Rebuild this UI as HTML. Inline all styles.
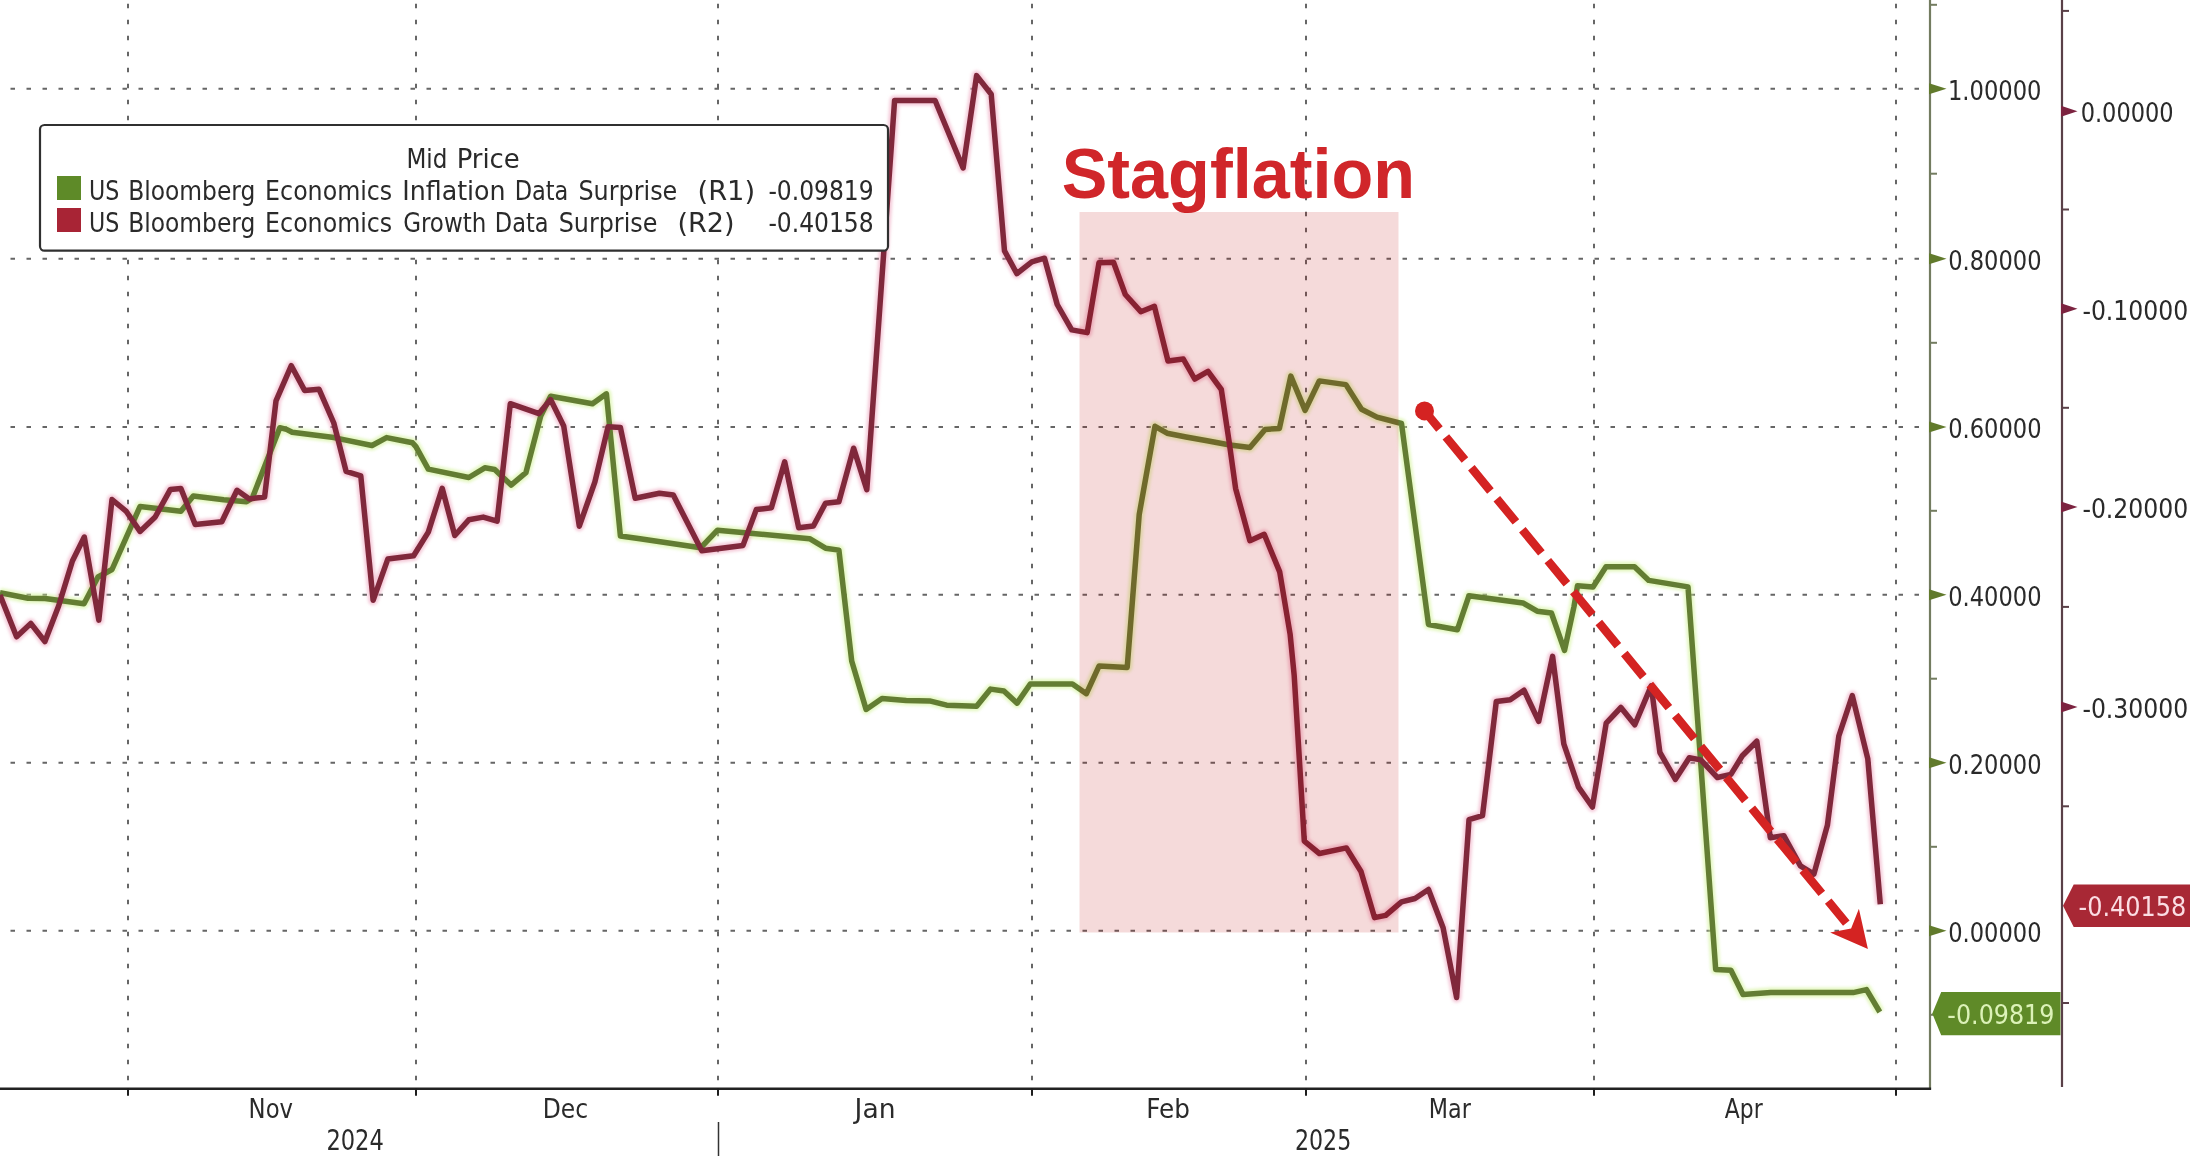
<!DOCTYPE html><html><head><meta charset="utf-8"><title>Stagflation</title><style>html,body{margin:0;padding:0;background:#fff;overflow:hidden}svg{display:block;will-change:transform}</style></head><body>
<svg width="2190" height="1156" viewBox="0 0 2190 1156">
<rect width="2190" height="1156" fill="#fff"/>
<line x1="128" y1="0" x2="128" y2="1086" stroke="#666" stroke-width="2" stroke-dasharray="4.5 11.5" stroke-dashoffset="-3.75"/><line x1="416" y1="0" x2="416" y2="1086" stroke="#666" stroke-width="2" stroke-dasharray="4.5 11.5" stroke-dashoffset="-3.75"/><line x1="718" y1="0" x2="718" y2="1086" stroke="#666" stroke-width="2" stroke-dasharray="4.5 11.5" stroke-dashoffset="-3.75"/><line x1="1032" y1="0" x2="1032" y2="1086" stroke="#666" stroke-width="2" stroke-dasharray="4.5 11.5" stroke-dashoffset="-3.75"/><line x1="1306" y1="0" x2="1306" y2="1086" stroke="#666" stroke-width="2" stroke-dasharray="4.5 11.5" stroke-dashoffset="-3.75"/><line x1="1594" y1="0" x2="1594" y2="1086" stroke="#666" stroke-width="2" stroke-dasharray="4.5 11.5" stroke-dashoffset="-3.75"/><line x1="1896" y1="0" x2="1896" y2="1086" stroke="#666" stroke-width="2" stroke-dasharray="4.5 11.5" stroke-dashoffset="-3.75"/><line x1="0" y1="88.8" x2="1928" y2="88.8" stroke="#666" stroke-width="2" stroke-dasharray="4.5 11.5" stroke-dashoffset="-10.5"/><line x1="0" y1="258.7" x2="1928" y2="258.7" stroke="#666" stroke-width="2" stroke-dasharray="4.5 11.5" stroke-dashoffset="-10.5"/><line x1="0" y1="426.9" x2="1928" y2="426.9" stroke="#666" stroke-width="2" stroke-dasharray="4.5 11.5" stroke-dashoffset="-10.5"/><line x1="0" y1="594.7" x2="1928" y2="594.7" stroke="#666" stroke-width="2" stroke-dasharray="4.5 11.5" stroke-dashoffset="-10.5"/><line x1="0" y1="762.7" x2="1928" y2="762.7" stroke="#666" stroke-width="2" stroke-dasharray="4.5 11.5" stroke-dashoffset="-10.5"/><line x1="0" y1="930.8" x2="1928" y2="930.8" stroke="#666" stroke-width="2" stroke-dasharray="4.5 11.5" stroke-dashoffset="-10.5"/>
<text x="1061.73" y="198" font-family="Liberation Sans, DejaVu Sans, sans-serif" font-size="70" font-weight="bold" fill="#d0262a" textLength="353.27" lengthAdjust="spacingAndGlyphs">Stagflation</text>
<defs><filter id="hb" x="-5%" y="-5%" width="110%" height="110%"><feGaussianBlur stdDeviation="1.6"/></filter></defs>
<g filter="url(#hb)"><polyline points="0,592.8 28,598.3 45.1,598.6 84,603.7 98,577 112,569.5 140,506.5 180.9,511.2 193.3,496 223.7,499.8 246.5,501.7 252.3,498 279.8,427.7 286.5,429.4 292.2,432.3 333.8,437.6 372,445.5 386.6,437.6 412.5,442.8 415.9,446.6 428.3,469.1 468.8,477.5 484.8,467.8 494.7,469.5 511.1,485.1 525.9,472.7 540.7,416 550.6,396.3 592.5,403.7 606.4,393.8 620.4,536 640,538.7 700.6,547.8 717.5,530.2 809.6,538.7 825.5,548.2 838.9,550.1 851.7,661 866.1,709.4 882,698.5 906.2,700.5 929.6,700.9 946.7,705.2 976.6,706.2 990.6,689.1 1003.9,691 1017.1,703.1 1030.3,684 1072.4,684 1086.4,693.7 1099,666.1 1127.2,667.4 1139.2,514.6 1155,426.3 1167.1,433.2 1186.1,437 1207.1,440.8 1229.9,445 1249.9,447.5 1265.1,429.4 1279.4,428.5 1290.8,376.1 1305.1,410.4 1319.3,380.9 1345.9,384.6 1361.5,409.3 1377,417.1 1401.5,423.5 1428.5,624.5 1457.4,629.7 1468.9,595.8 1522.9,602.9 1537.2,611.2 1551.4,613 1564.5,650.4 1574,606.5 1577.5,585.7 1593,586.9 1606,566.7 1634.5,566.7 1648.8,580.4 1688,586.9 1715.7,969.6 1730.9,970.2 1743,994.4 1770.8,992.6 1853.1,992.6 1866.5,989.6 1879.8,1012" fill="none" stroke="rgb(205,240,140)" stroke-opacity="0.55" stroke-width="10" stroke-linejoin="round"/>
<polyline points="0,595 16.6,636.8 30.8,623.5 44.9,641.5 58.6,606 72.4,561 84.3,537 98.8,620.1 112,499.5 126,511 140,531.4 155.2,517 170.4,489.4 180.9,488.4 195.2,524.6 221.8,521.7 237,490.3 249.4,498.9 264.6,497 276,400.9 291.3,365.7 304.6,390.4 319.1,389.3 333.8,423 346.1,471.4 360.8,475.9 373.1,600.3 387.8,559.1 413.6,555.8 428.3,532.1 442.2,488.3 454.8,535.5 468.8,519.8 483.2,517.1 497.1,521.2 510.3,403.7 539,413.6 550.6,399.6 563.7,425.9 579.3,526.2 594.9,481.8 608.1,426.7 620.4,427.5 635.2,498.2 659.4,493.3 673.3,495.1 701.8,550.8 743,545.4 756.3,509.6 771.4,507.8 784.7,461.8 798.7,527.8 813.4,526 825.5,503.2 838.9,501.8 853.6,448.2 866.8,489.7 894.6,100.5 935.1,100.5 963.1,168 976.6,75.6 991.2,94.3 1004.5,250.9 1016.9,273.6 1031.8,261.8 1044.5,258.2 1057.2,304.5 1071.7,329.9 1087.2,332.6 1099,262.7 1113.5,262.3 1125.3,294.5 1140.8,311.7 1154.4,306.3 1168,361 1183.3,359 1194.7,379 1208,371.4 1221.3,389.5 1229,440.8 1235.6,488.4 1249.9,540.7 1264.2,534.3 1279.7,571.9 1290.1,634.1 1294.2,675.6 1299.4,760 1304.3,841.1 1319.4,853.5 1346.4,847.9 1361,871.5 1374.5,917.6 1385.7,915.4 1401.5,901.9 1415,898.5 1428.5,889.5 1443.1,927.7 1456.6,997.5 1469,819.7 1482.5,815.6 1496.3,701.4 1510.2,699.7 1524,690.2 1538.7,721.3 1552.6,656.4 1563.8,743.8 1578.5,787.1 1592.4,807 1606.2,723.1 1620.9,707.5 1634.8,724.8 1651.2,685.9 1659.9,752.5 1675.4,779.3 1689.3,757.8 1700.8,759.9 1717.4,777.5 1730.9,774.4 1742.3,755.8 1756.8,741.2 1770.3,837.7 1783.8,835.7 1800.4,865.8 1813.9,874.1 1827.4,825.3 1838.8,736 1852.3,695.6 1867.8,758.9 1880.3,904.2" fill="none" stroke="rgb(235,150,180)" stroke-opacity="0.5" stroke-width="10" stroke-linejoin="round"/></g>
<polyline points="0,592.8 28,598.3 45.1,598.6 84,603.7 98,577 112,569.5 140,506.5 180.9,511.2 193.3,496 223.7,499.8 246.5,501.7 252.3,498 279.8,427.7 286.5,429.4 292.2,432.3 333.8,437.6 372,445.5 386.6,437.6 412.5,442.8 415.9,446.6 428.3,469.1 468.8,477.5 484.8,467.8 494.7,469.5 511.1,485.1 525.9,472.7 540.7,416 550.6,396.3 592.5,403.7 606.4,393.8 620.4,536 640,538.7 700.6,547.8 717.5,530.2 809.6,538.7 825.5,548.2 838.9,550.1 851.7,661 866.1,709.4 882,698.5 906.2,700.5 929.6,700.9 946.7,705.2 976.6,706.2 990.6,689.1 1003.9,691 1017.1,703.1 1030.3,684 1072.4,684 1086.4,693.7 1099,666.1 1127.2,667.4 1139.2,514.6 1155,426.3 1167.1,433.2 1186.1,437 1207.1,440.8 1229.9,445 1249.9,447.5 1265.1,429.4 1279.4,428.5 1290.8,376.1 1305.1,410.4 1319.3,380.9 1345.9,384.6 1361.5,409.3 1377,417.1 1401.5,423.5 1428.5,624.5 1457.4,629.7 1468.9,595.8 1522.9,602.9 1537.2,611.2 1551.4,613 1564.5,650.4 1574,606.5 1577.5,585.7 1593,586.9 1606,566.7 1634.5,566.7 1648.8,580.4 1688,586.9 1715.7,969.6 1730.9,970.2 1743,994.4 1770.8,992.6 1853.1,992.6 1866.5,989.6 1879.8,1012" fill="none" stroke="#637d33" stroke-width="5.5" stroke-linejoin="round"/>
<polyline points="0,595 16.6,636.8 30.8,623.5 44.9,641.5 58.6,606 72.4,561 84.3,537 98.8,620.1 112,499.5 126,511 140,531.4 155.2,517 170.4,489.4 180.9,488.4 195.2,524.6 221.8,521.7 237,490.3 249.4,498.9 264.6,497 276,400.9 291.3,365.7 304.6,390.4 319.1,389.3 333.8,423 346.1,471.4 360.8,475.9 373.1,600.3 387.8,559.1 413.6,555.8 428.3,532.1 442.2,488.3 454.8,535.5 468.8,519.8 483.2,517.1 497.1,521.2 510.3,403.7 539,413.6 550.6,399.6 563.7,425.9 579.3,526.2 594.9,481.8 608.1,426.7 620.4,427.5 635.2,498.2 659.4,493.3 673.3,495.1 701.8,550.8 743,545.4 756.3,509.6 771.4,507.8 784.7,461.8 798.7,527.8 813.4,526 825.5,503.2 838.9,501.8 853.6,448.2 866.8,489.7 894.6,100.5 935.1,100.5 963.1,168 976.6,75.6 991.2,94.3 1004.5,250.9 1016.9,273.6 1031.8,261.8 1044.5,258.2 1057.2,304.5 1071.7,329.9 1087.2,332.6 1099,262.7 1113.5,262.3 1125.3,294.5 1140.8,311.7 1154.4,306.3 1168,361 1183.3,359 1194.7,379 1208,371.4 1221.3,389.5 1229,440.8 1235.6,488.4 1249.9,540.7 1264.2,534.3 1279.7,571.9 1290.1,634.1 1294.2,675.6 1299.4,760 1304.3,841.1 1319.4,853.5 1346.4,847.9 1361,871.5 1374.5,917.6 1385.7,915.4 1401.5,901.9 1415,898.5 1428.5,889.5 1443.1,927.7 1456.6,997.5 1469,819.7 1482.5,815.6 1496.3,701.4 1510.2,699.7 1524,690.2 1538.7,721.3 1552.6,656.4 1563.8,743.8 1578.5,787.1 1592.4,807 1606.2,723.1 1620.9,707.5 1634.8,724.8 1651.2,685.9 1659.9,752.5 1675.4,779.3 1689.3,757.8 1700.8,759.9 1717.4,777.5 1730.9,774.4 1742.3,755.8 1756.8,741.2 1770.3,837.7 1783.8,835.7 1800.4,865.8 1813.9,874.1 1827.4,825.3 1838.8,736 1852.3,695.6 1867.8,758.9 1880.3,904.2" fill="none" stroke="#80283b" stroke-width="5.5" stroke-linejoin="round"/>
<rect x="1079.5" y="212" width="319" height="720.5" fill="rgb(185,0,0)" fill-opacity="0.145"/>
<line x1="1424.5" y1="410.9" x2="1846.3" y2="923.1" stroke="#d42322" stroke-width="8.5" stroke-dasharray="30 10.1" stroke-dashoffset="6.5"/>
<circle cx="1424.5" cy="410.9" r="9.5" fill="#d42322"/>
<polygon points="1867.9,949 1858.9,908.7 1851.1,928.6 1830.1,932.5" fill="#d42322"/>
<rect x="40" y="125" width="848" height="125.7" rx="4.5" ry="4.5" fill="#fff" stroke="#303030" stroke-width="2.2"/>
<rect x="57" y="176" width="24" height="24" fill="#5e8a28"/>
<rect x="57" y="208" width="24" height="24" fill="#a82435"/>
<text x="406.40" y="167.6" font-family="DejaVu Sans Condensed, DejaVu Sans, sans-serif" font-size="26" font-weight="normal" fill="#2a2a2a" textLength="40.93" lengthAdjust="spacingAndGlyphs">Mid</text>
<text x="456.65" y="167.6" font-family="DejaVu Sans Condensed, DejaVu Sans, sans-serif" font-size="26" font-weight="normal" fill="#2a2a2a" textLength="63.15" lengthAdjust="spacingAndGlyphs">Price</text>
<text x="89.07" y="200.3" font-family="DejaVu Sans Condensed, DejaVu Sans, sans-serif" font-size="26" font-weight="normal" fill="#2a2a2a" textLength="30.31" lengthAdjust="spacingAndGlyphs">US</text>
<text x="128.17" y="200.3" font-family="DejaVu Sans Condensed, DejaVu Sans, sans-serif" font-size="26" font-weight="normal" fill="#2a2a2a" textLength="127.18" lengthAdjust="spacingAndGlyphs">Bloomberg</text>
<text x="265.14" y="200.3" font-family="DejaVu Sans Condensed, DejaVu Sans, sans-serif" font-size="26" font-weight="normal" fill="#2a2a2a" textLength="127.08" lengthAdjust="spacingAndGlyphs">Economics</text>
<text x="402.20" y="200.3" font-family="DejaVu Sans Condensed, DejaVu Sans, sans-serif" font-size="26" font-weight="normal" fill="#2a2a2a" textLength="103.48" lengthAdjust="spacingAndGlyphs">Inflation</text>
<text x="514.75" y="200.3" font-family="DejaVu Sans Condensed, DejaVu Sans, sans-serif" font-size="26" font-weight="normal" fill="#2a2a2a" textLength="53.62" lengthAdjust="spacingAndGlyphs">Data</text>
<text x="578.46" y="200.3" font-family="DejaVu Sans Condensed, DejaVu Sans, sans-serif" font-size="26" font-weight="normal" fill="#2a2a2a" textLength="98.85" lengthAdjust="spacingAndGlyphs">Surprise</text>
<text x="697.50" y="200.3" font-family="DejaVu Sans Condensed, DejaVu Sans, sans-serif" font-size="26" font-weight="normal" fill="#2a2a2a" textLength="57.61" lengthAdjust="spacingAndGlyphs">(R1)</text>
<text x="768.39" y="200.3" font-family="DejaVu Sans Condensed, DejaVu Sans, sans-serif" font-size="26" font-weight="normal" fill="#2a2a2a" textLength="105.29" lengthAdjust="spacingAndGlyphs">-0.09819</text>
<text x="89.07" y="232.4" font-family="DejaVu Sans Condensed, DejaVu Sans, sans-serif" font-size="26" font-weight="normal" fill="#2a2a2a" textLength="30.31" lengthAdjust="spacingAndGlyphs">US</text>
<text x="128.17" y="232.4" font-family="DejaVu Sans Condensed, DejaVu Sans, sans-serif" font-size="26" font-weight="normal" fill="#2a2a2a" textLength="127.18" lengthAdjust="spacingAndGlyphs">Bloomberg</text>
<text x="265.14" y="232.4" font-family="DejaVu Sans Condensed, DejaVu Sans, sans-serif" font-size="26" font-weight="normal" fill="#2a2a2a" textLength="127.08" lengthAdjust="spacingAndGlyphs">Economics</text>
<text x="403.20" y="232.4" font-family="DejaVu Sans Condensed, DejaVu Sans, sans-serif" font-size="26" font-weight="normal" fill="#2a2a2a" textLength="83.09" lengthAdjust="spacingAndGlyphs">Growth</text>
<text x="494.85" y="232.4" font-family="DejaVu Sans Condensed, DejaVu Sans, sans-serif" font-size="26" font-weight="normal" fill="#2a2a2a" textLength="53.62" lengthAdjust="spacingAndGlyphs">Data</text>
<text x="558.66" y="232.4" font-family="DejaVu Sans Condensed, DejaVu Sans, sans-serif" font-size="26" font-weight="normal" fill="#2a2a2a" textLength="98.75" lengthAdjust="spacingAndGlyphs">Surprise</text>
<text x="677.52" y="232.4" font-family="DejaVu Sans Condensed, DejaVu Sans, sans-serif" font-size="26" font-weight="normal" fill="#2a2a2a" textLength="57.08" lengthAdjust="spacingAndGlyphs">(R2)</text>
<text x="768.39" y="232.4" font-family="DejaVu Sans Condensed, DejaVu Sans, sans-serif" font-size="26" font-weight="normal" fill="#2a2a2a" textLength="105.29" lengthAdjust="spacingAndGlyphs">-0.40158</text>
<line x1="1930" y1="0" x2="1930" y2="1089.5" stroke="#737c60" stroke-width="2.2"/>
<line x1="0" y1="1088.7" x2="1931.1" y2="1088.7" stroke="#222" stroke-width="2.4"/>
<line x1="128" y1="1088" x2="128" y2="1095.7" stroke="#1e1e1e" stroke-width="2"/>
<line x1="416" y1="1088" x2="416" y2="1095.7" stroke="#1e1e1e" stroke-width="2"/>
<line x1="718" y1="1088" x2="718" y2="1095.7" stroke="#1e1e1e" stroke-width="2"/>
<line x1="1032" y1="1088" x2="1032" y2="1095.7" stroke="#1e1e1e" stroke-width="2"/>
<line x1="1306" y1="1088" x2="1306" y2="1095.7" stroke="#1e1e1e" stroke-width="2"/>
<line x1="1594" y1="1088" x2="1594" y2="1095.7" stroke="#1e1e1e" stroke-width="2"/>
<line x1="1896" y1="1088" x2="1896" y2="1095.7" stroke="#1e1e1e" stroke-width="2"/>
<line x1="2062" y1="0" x2="2062" y2="1087" stroke="#5a4048" stroke-width="2.2"/>
<line x1="1930" y1="4.8" x2="1937" y2="4.8" stroke="#737c60" stroke-width="2"/>
<line x1="1930" y1="173.7" x2="1937" y2="173.7" stroke="#737c60" stroke-width="2"/>
<line x1="1930" y1="342.8" x2="1937" y2="342.8" stroke="#737c60" stroke-width="2"/>
<line x1="1930" y1="510.8" x2="1937" y2="510.8" stroke="#737c60" stroke-width="2"/>
<line x1="1930" y1="678.7" x2="1937" y2="678.7" stroke="#737c60" stroke-width="2"/>
<line x1="1930" y1="846.8" x2="1937" y2="846.8" stroke="#737c60" stroke-width="2"/>
<line x1="1930" y1="1014.8" x2="1937" y2="1014.8" stroke="#737c60" stroke-width="2"/>
<polygon points="1929,83.3 1946.5,88.8 1929,94.3" fill="#617a2c"/>
<polygon points="1929,253.2 1946.5,258.7 1929,264.2" fill="#617a2c"/>
<polygon points="1929,421.4 1946.5,426.9 1929,432.4" fill="#617a2c"/>
<polygon points="1929,589.2 1946.5,594.7 1929,600.2" fill="#617a2c"/>
<polygon points="1929,757.2 1946.5,762.7 1929,768.2" fill="#617a2c"/>
<polygon points="1929,925.3 1946.5,930.8 1929,936.3" fill="#617a2c"/>
<line x1="2062" y1="10.9" x2="2069" y2="10.9" stroke="#5a4048" stroke-width="2"/>
<line x1="2062" y1="209.5" x2="2069" y2="209.5" stroke="#5a4048" stroke-width="2"/>
<line x1="2062" y1="407.8" x2="2069" y2="407.8" stroke="#5a4048" stroke-width="2"/>
<line x1="2062" y1="606.9" x2="2069" y2="606.9" stroke="#5a4048" stroke-width="2"/>
<line x1="2062" y1="806.3" x2="2069" y2="806.3" stroke="#5a4048" stroke-width="2"/>
<line x1="2062" y1="1003" x2="2069" y2="1003" stroke="#5a4048" stroke-width="2"/>
<polygon points="2061,105.7 2077.5,111.2 2061,116.7" fill="#7c2340"/>
<polygon points="2061,303.3 2077.5,308.8 2061,314.3" fill="#7c2340"/>
<polygon points="2061,501.4 2077.5,506.9 2061,512.4" fill="#7c2340"/>
<polygon points="2061,701.4 2077.5,706.9 2061,712.4" fill="#7c2340"/>
<text x="1947.94" y="99.6" font-family="DejaVu Sans Condensed, DejaVu Sans, sans-serif" font-size="27" font-weight="normal" fill="#2a2a2a" textLength="93.58" lengthAdjust="spacingAndGlyphs">1.00000</text>
<text x="1948.22" y="269.5" font-family="DejaVu Sans Condensed, DejaVu Sans, sans-serif" font-size="27" font-weight="normal" fill="#2a2a2a" textLength="93.30" lengthAdjust="spacingAndGlyphs">0.80000</text>
<text x="1948.22" y="437.7" font-family="DejaVu Sans Condensed, DejaVu Sans, sans-serif" font-size="27" font-weight="normal" fill="#2a2a2a" textLength="93.30" lengthAdjust="spacingAndGlyphs">0.60000</text>
<text x="1948.22" y="605.5" font-family="DejaVu Sans Condensed, DejaVu Sans, sans-serif" font-size="27" font-weight="normal" fill="#2a2a2a" textLength="93.30" lengthAdjust="spacingAndGlyphs">0.40000</text>
<text x="1948.22" y="773.5" font-family="DejaVu Sans Condensed, DejaVu Sans, sans-serif" font-size="27" font-weight="normal" fill="#2a2a2a" textLength="93.30" lengthAdjust="spacingAndGlyphs">0.20000</text>
<text x="1948.22" y="941.6" font-family="DejaVu Sans Condensed, DejaVu Sans, sans-serif" font-size="27" font-weight="normal" fill="#2a2a2a" textLength="93.30" lengthAdjust="spacingAndGlyphs">0.00000</text>
<text x="2080.63" y="121.8" font-family="DejaVu Sans Condensed, DejaVu Sans, sans-serif" font-size="27" font-weight="normal" fill="#2a2a2a" textLength="92.99" lengthAdjust="spacingAndGlyphs">0.00000</text>
<text x="2082.38" y="319.6" font-family="DejaVu Sans Condensed, DejaVu Sans, sans-serif" font-size="27" font-weight="normal" fill="#2a2a2a" textLength="105.90" lengthAdjust="spacingAndGlyphs">-0.10000</text>
<text x="2082.38" y="517.7" font-family="DejaVu Sans Condensed, DejaVu Sans, sans-serif" font-size="27" font-weight="normal" fill="#2a2a2a" textLength="105.90" lengthAdjust="spacingAndGlyphs">-0.20000</text>
<text x="2082.38" y="717.7" font-family="DejaVu Sans Condensed, DejaVu Sans, sans-serif" font-size="27" font-weight="normal" fill="#2a2a2a" textLength="105.90" lengthAdjust="spacingAndGlyphs">-0.30000</text>
<polygon points="1932.3,1013.6 1941.2,992 2060.5,992 2060.5,1035.3 1941.2,1035.3" fill="#5f8a28"/>
<text x="1947.37" y="1024.1" font-family="DejaVu Sans Condensed, DejaVu Sans, sans-serif" font-size="27" font-weight="normal" fill="#dcf2b8" textLength="106.92" lengthAdjust="spacingAndGlyphs">-0.09819</text>
<polygon points="2063,905.8 2073.7,884.6 2190,884.6 2190,927.1 2073.7,927.1" fill="#a82835"/>
<text x="2078.57" y="915.6" font-family="DejaVu Sans Condensed, DejaVu Sans, sans-serif" font-size="27" font-weight="normal" fill="#fbdde3" textLength="107.54" lengthAdjust="spacingAndGlyphs">-0.40158</text>
<text x="248.62" y="1117.8" font-family="DejaVu Sans Condensed, DejaVu Sans, sans-serif" font-size="27.2" font-weight="normal" fill="#2a2a2a" textLength="44.40" lengthAdjust="spacingAndGlyphs">Nov</text>
<text x="542.77" y="1117.8" font-family="DejaVu Sans Condensed, DejaVu Sans, sans-serif" font-size="27.2" font-weight="normal" fill="#2a2a2a" textLength="45.31" lengthAdjust="spacingAndGlyphs">Dec</text>
<text x="854.59" y="1117.8" font-family="DejaVu Sans Condensed, DejaVu Sans, sans-serif" font-size="27.2" font-weight="normal" fill="#2a2a2a" textLength="40.99" lengthAdjust="spacingAndGlyphs">Jan</text>
<text x="1146.25" y="1117.8" font-family="DejaVu Sans Condensed, DejaVu Sans, sans-serif" font-size="27.2" font-weight="normal" fill="#2a2a2a" textLength="43.65" lengthAdjust="spacingAndGlyphs">Feb</text>
<text x="1428.87" y="1117.8" font-family="DejaVu Sans Condensed, DejaVu Sans, sans-serif" font-size="27.2" font-weight="normal" fill="#2a2a2a" textLength="42.00" lengthAdjust="spacingAndGlyphs">Mar</text>
<text x="1724.80" y="1117.8" font-family="DejaVu Sans Condensed, DejaVu Sans, sans-serif" font-size="27.2" font-weight="normal" fill="#2a2a2a" textLength="37.87" lengthAdjust="spacingAndGlyphs">Apr</text>
<text x="326.43" y="1150" font-family="DejaVu Sans Condensed, DejaVu Sans, sans-serif" font-size="27.5" font-weight="normal" fill="#2a2a2a" textLength="57.40" lengthAdjust="spacingAndGlyphs">2024</text>
<text x="1294.96" y="1150" font-family="DejaVu Sans Condensed, DejaVu Sans, sans-serif" font-size="27.5" font-weight="normal" fill="#2a2a2a" textLength="56.32" lengthAdjust="spacingAndGlyphs">2025</text>
<line x1="718.5" y1="1122" x2="718.5" y2="1156" stroke="#333" stroke-width="1.5"/>
</svg></body></html>
